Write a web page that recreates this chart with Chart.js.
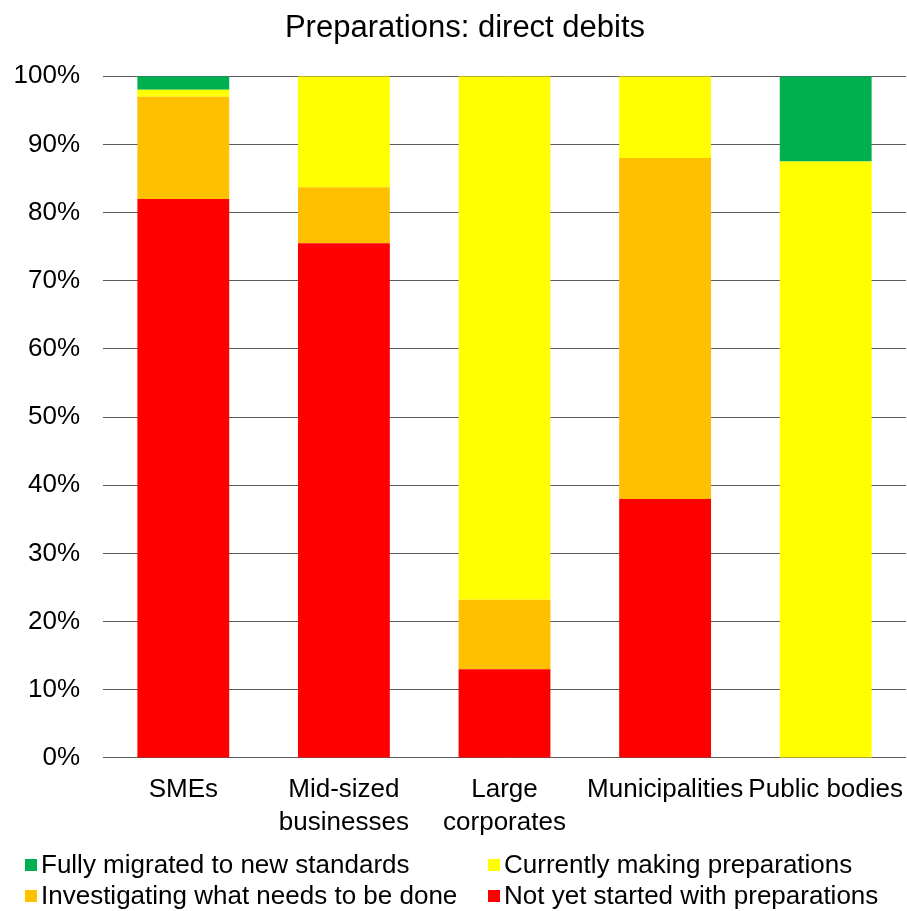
<!DOCTYPE html>
<html>
<head>
<meta charset="utf-8">
<title>Preparations: direct debits</title>
<script src="https://cdn.jsdelivr.net/npm/chart.js@4"></script>
<style>
    body { margin: 0; background: #fff; }
    #wrap { position: relative; width: 907px; height: 911px; }
    #chartDirectDebits { position: absolute; left: 0; top: 0; }
    #legendDirectDebits {
        position: absolute; left: 25px; top: 849px;
        display: grid; grid-template-columns: 463px auto; grid-auto-rows: 31px;
        font-family: "Liberation Sans", Arial, sans-serif; font-size: 26px; color: #000;
    }
    #legendDirectDebits .item { display: flex; align-items: center; white-space: nowrap; }
    #legendDirectDebits .box { width: 12px; height: 12px; margin-right: 4px; flex: none; }
</style>
</head>
<body>
<div id="wrap">
    <canvas id="chartDirectDebits" width="907" height="911"></canvas>
    <div id="legendDirectDebits"></div>
</div>
<script>
// Share of respondents per group, stacked from the bottom up
var categories = ['SMEs', ['Mid-sized', 'businesses'], ['Large', 'corporates'], 'Municipalities', 'Public bodies'];
var notStarted = [82, 75.5, 13, 38, 0];
var investigating = [15, 8.2, 10.2, 50, 0];
var preparing = [1, 16.3, 76.8, 12, 87.5];
var migrated = [2, 0, 0, 0, 12.5];
var yTicks = [0, 10, 20, 30, 40, 50, 60, 70, 80, 90, 100];

var fontFamily = '"Liberation Sans", Arial, sans-serif';

const data = {
    labels: categories,
    datasets: [
        { label: 'Not yet started with preparations', data: notStarted, backgroundColor: '#FF0000' },
        { label: 'Investigating what needs to be done', data: investigating, backgroundColor: '#FFC000' },
        { label: 'Currently making preparations', data: preparing, backgroundColor: '#FFFF00' },
        { label: 'Fully migrated to new standards', data: migrated, backgroundColor: '#00B050' }
    ]
};
data.datasets.forEach(function (ds) {
    ds.borderWidth = 0;
    ds.barPercentage = 0.572;
    ds.categoryPercentage = 1;
});

// title sits a bit right of the canvas centre
const titleOffset = {
    id: 'titleOffset',
    afterLayout: function (chart) {
        chart.titleBlock.left = 24;
    }
};

const config = {
    type: 'bar',
    data: data,
    plugins: [titleOffset],
    options: {
        responsive: false,
        devicePixelRatio: 1,
        animation: false,
        layout: { padding: { left: 13, right: 1, top: 0, bottom: 57 } },
        plugins: {
            legend: { display: false },
            tooltip: { enabled: false },
            title: {
                display: true,
                text: 'Preparations: direct debits',
                color: '#000',
                font: { family: fontFamily, size: 31, weight: 'normal' },
                padding: { top: 10, bottom: 29 }
            }
        },
        scales: {
            x: {
                stacked: true,
                grid: { display: false, drawTicks: false },
                border: { display: false },
                afterFit: function (scale) {
                    scale.paddingLeft = 0;
                    scale.paddingRight = 0;
                },
                ticks: {
                    color: '#000',
                    font: { family: fontFamily, size: 26, lineHeight: 1.27 },
                    padding: 15,
                    maxRotation: 0,
                    minRotation: 0,
                    autoSkip: false
                }
            },
            y: {
                stacked: true,
                min: 0,
                max: 100,
                afterBuildTicks: function (scale) {
                    scale.ticks = yTicks.map(function (v) { return { value: v }; });
                },
                afterFit: function (scale) {
                    scale.width = 90;
                },
                grid: { color: '#5a5a5a', lineWidth: 1, drawTicks: false },
                border: { display: false },
                ticks: {
                    color: '#000',
                    font: { family: fontFamily, size: 26 },
                    padding: 23,
                    callback: function (v) { return v + '%'; }
                }
            }
        }
    }
};

var myChart = new Chart(document.getElementById('chartDirectDebits'), config);

// legend in two columns, top series first
var legend = document.getElementById('legendDirectDebits');
data.datasets.slice().reverse().forEach(function (ds) {
    var item = document.createElement('div');
    item.className = 'item';
    var box = document.createElement('span');
    box.className = 'box';
    box.style.background = ds.backgroundColor;
    item.appendChild(box);
    item.appendChild(document.createTextNode(ds.label));
    legend.appendChild(item);
});
</script>
</body>
</html>
